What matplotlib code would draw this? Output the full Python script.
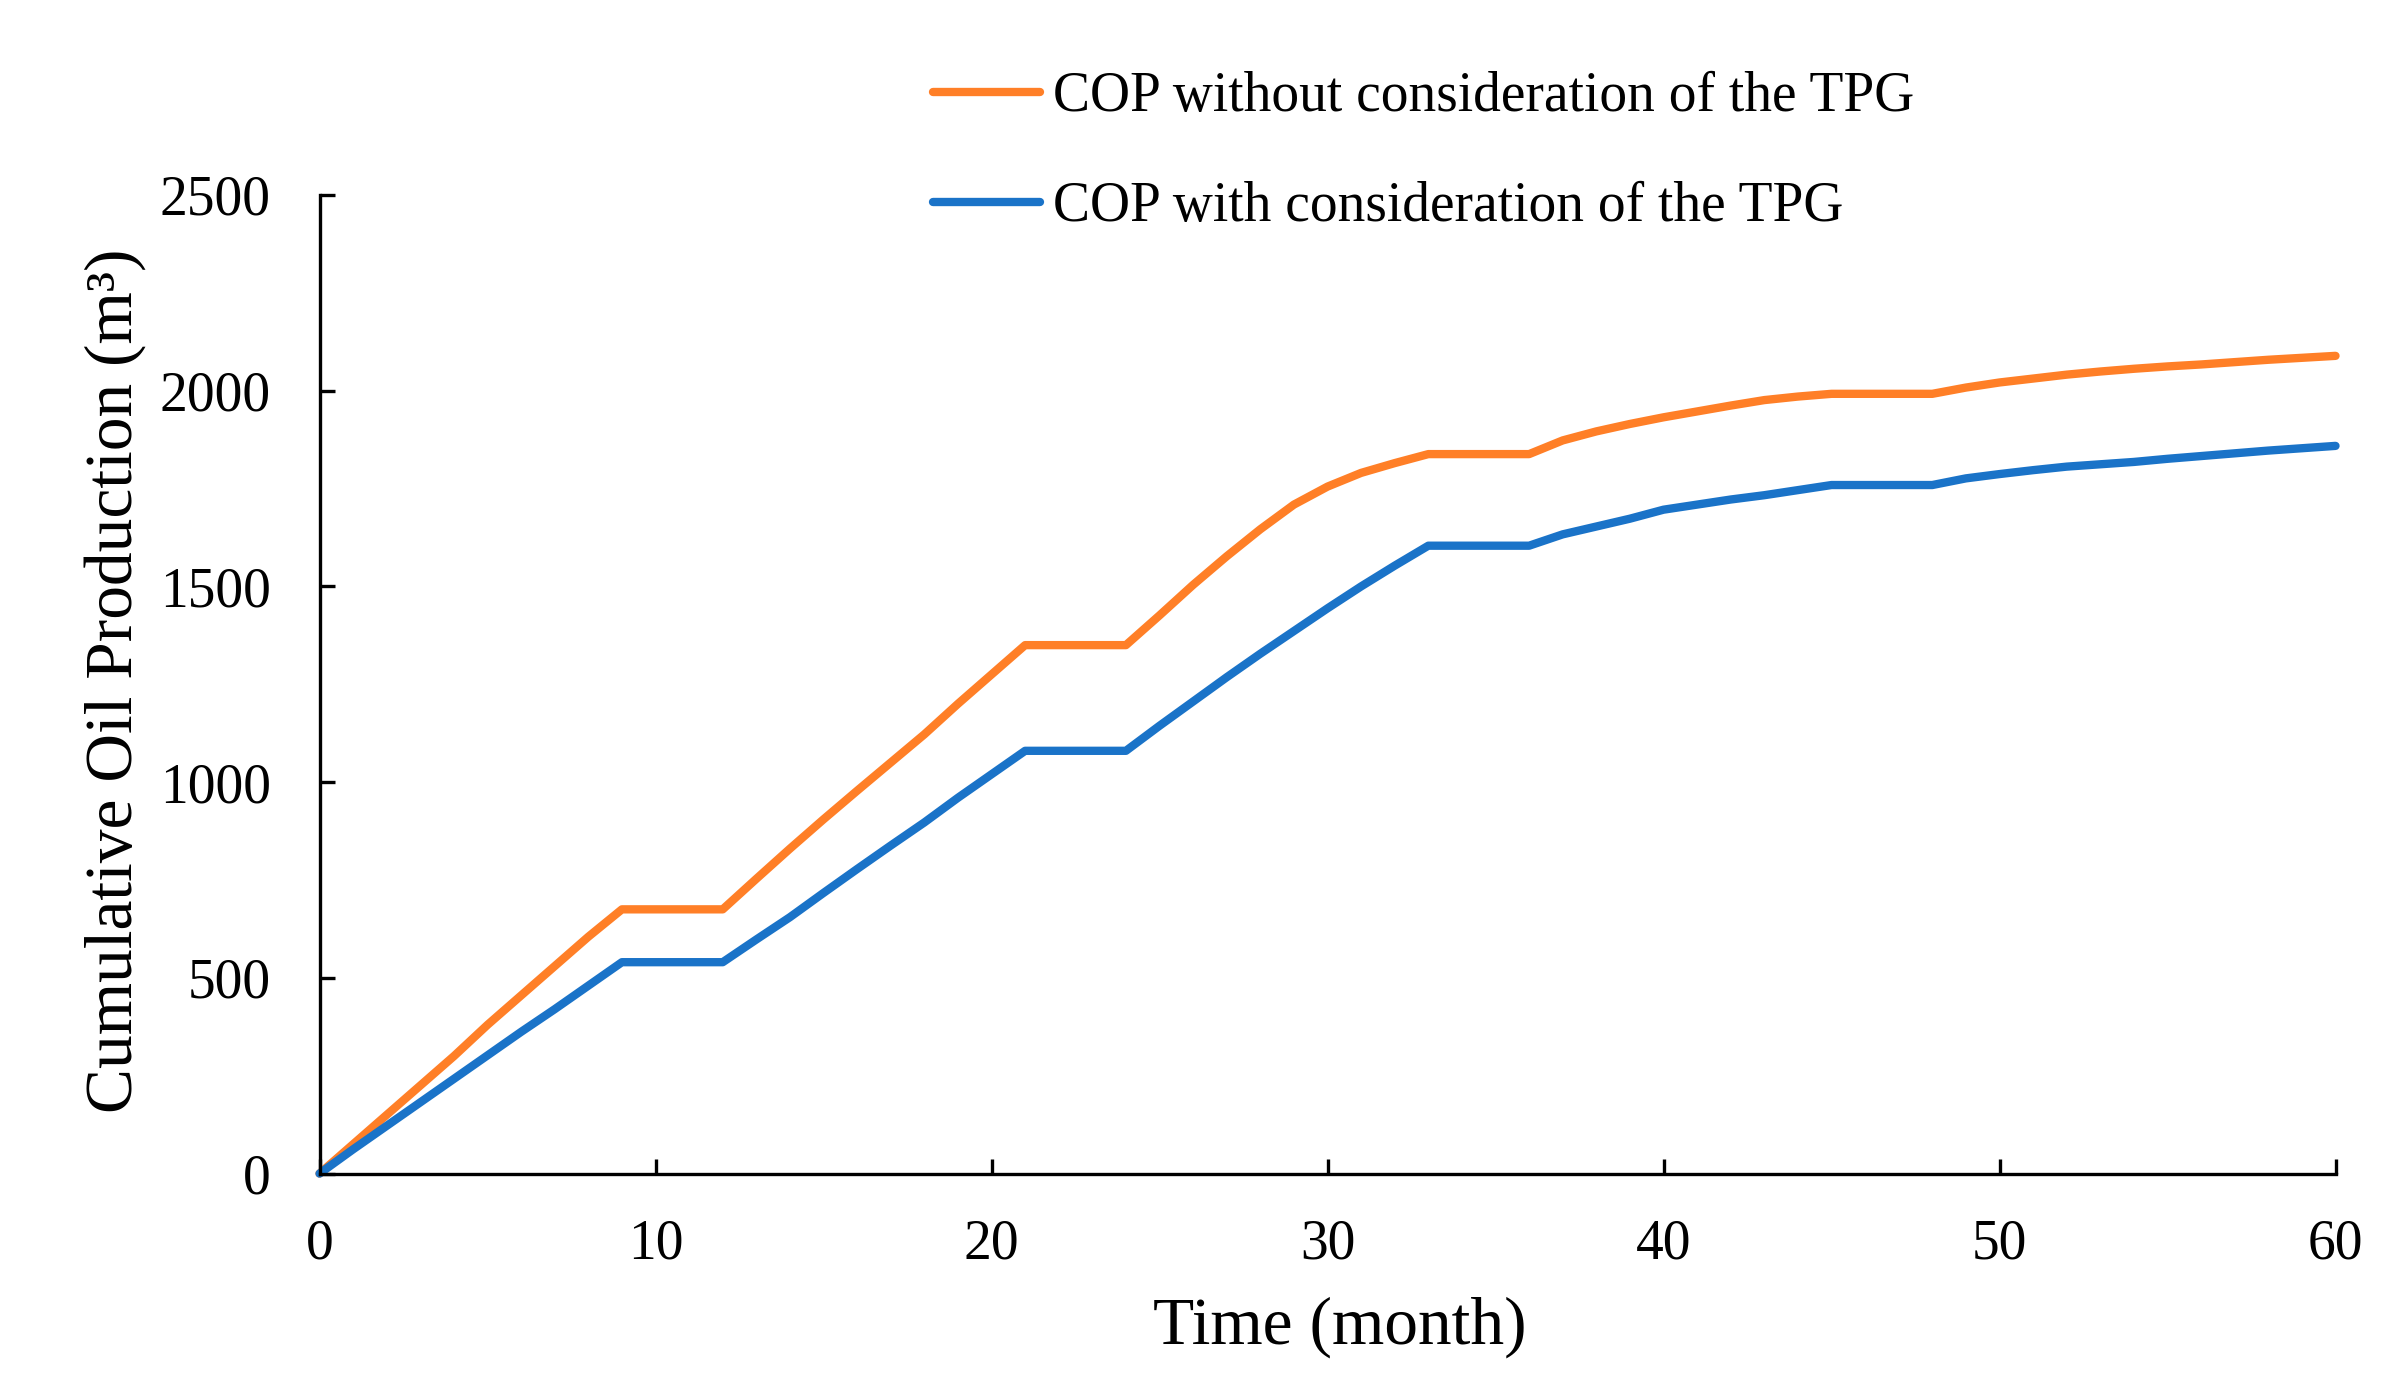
import numpy as np
import matplotlib.pyplot as plt

# time in months
months = np.arange(0, 61)

# cumulative oil production without TPG (m3)
cop_without_tpg = [
    0, 75, 150, 225, 300, 380, 455, 530, 605, 675,
    675, 675, 675, 753, 830, 905, 978, 1050, 1122, 1200,
    1275, 1350, 1350, 1350, 1350, 1426, 1504, 1577, 1646, 1709,
    1755, 1790, 1815, 1838, 1838, 1838, 1838, 1873, 1896, 1915,
    1932, 1947, 1962, 1976, 1985, 1992, 1992, 1992, 1992, 2008,
    2021, 2031, 2041, 2049, 2056, 2062, 2067, 2073, 2079, 2084,
    2089,
]

# cumulative oil production with TPG (m3)
cop_with_tpg = [
    0, 62, 122, 182, 242, 302, 362, 420, 480, 540,
    540, 540, 540, 598, 655, 717, 778, 838, 897, 960,
    1020, 1080, 1080, 1080, 1080, 1144, 1206, 1268, 1328, 1386,
    1444, 1500, 1553, 1604, 1604, 1604, 1604, 1633, 1653, 1673,
    1696, 1709, 1722, 1733, 1746, 1759, 1759, 1759, 1759, 1776,
    1787, 1797, 1806, 1812, 1818, 1826, 1833, 1840, 1847, 1853,
    1859,
]

x_ticks = [0, 10, 20, 30, 40, 50, 60]
y_ticks = [0, 500, 1000, 1500, 2000, 2500]

plt.rcParams['font.family'] = ['Liberation Serif', 'DejaVu Serif']

fig = plt.figure(figsize=(23.9, 13.75), dpi=100)
ax = fig.add_axes([0.1337, 0.1465, 0.8435, 0.7117])

ax.plot(months, cop_without_tpg, color="#FF7F27", linewidth=6,
        solid_capstyle="round", solid_joinstyle="round", clip_on=False,
        label="COP without consideration of the TPG")
ax.plot(months, cop_with_tpg, color="#1A73C8", linewidth=6,
        solid_capstyle="round", solid_joinstyle="round", clip_on=False,
        label="COP with consideration of the TPG")

ax.set_xlim(0, 60)
ax.set_ylim(0, 2500)
ax.set_xticks(x_ticks)
ax.set_yticks(y_ticks)

for side in ["top", "right"]:
    ax.spines[side].set_visible(False)
for side in ["left", "bottom"]:
    ax.spines[side].set_linewidth(2.4)

ax.tick_params(axis="both", direction="in", length=11, width=2.4, labelsize=40)
ax.tick_params(axis="x", pad=32)
ax.tick_params(axis="y", pad=35)

ax.set_xlabel("Time (month)", fontsize=48.5)
ax.set_ylabel("Cumulative Oil Production (m³)", fontsize=48.5)
ax.xaxis.set_label_coords(0.506, -0.126)
ax.yaxis.set_label_coords(-0.086, 0.504)

ax.legend(loc="upper left", bbox_to_anchor=(0.3905, 0.948),
          bbox_transform=fig.transFigure, frameon=False, fontsize=40,
          handlelength=1.92, handletextpad=0.23, labelspacing=1.04,
          borderpad=0, borderaxespad=0)

fig.savefig("out.png", dpi=100)
